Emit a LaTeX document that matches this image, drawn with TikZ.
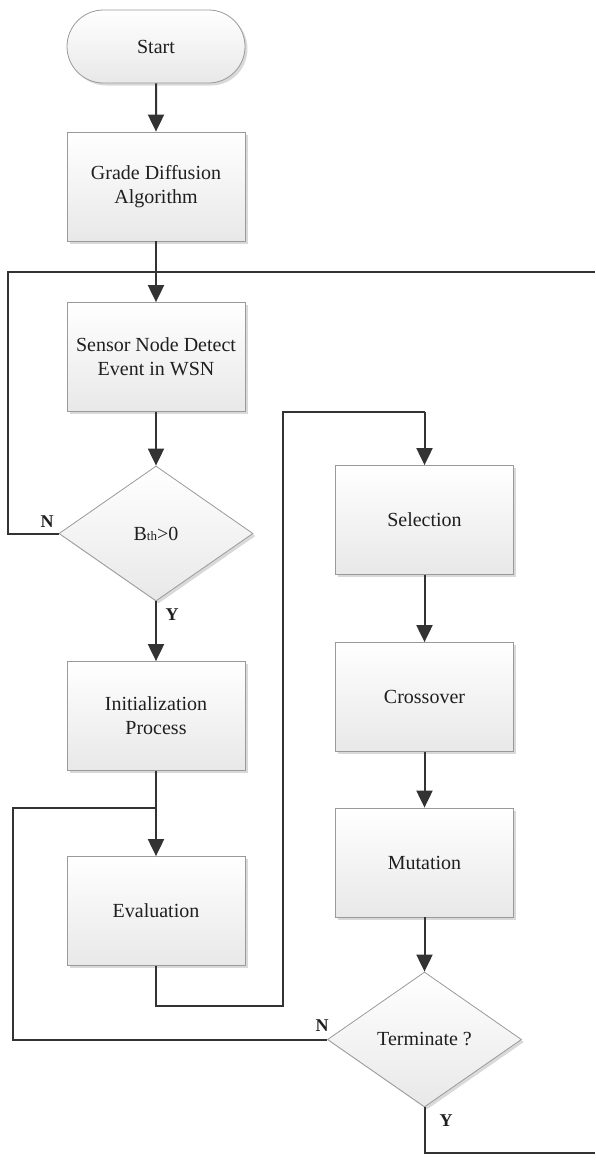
\documentclass[tikz,border=0pt]{standalone}
\usepackage{fontspec}
\setmainfont{Liberation Serif}
\usetikzlibrary{arrows.meta,shapes.geometric,shapes.misc,shadows}
\definecolor{linec}{HTML}{333333}
\definecolor{boxb}{HTML}{9A9A9A}
\begin{document}
\begin{tikzpicture}[x=1pt,y=-1pt,
 font=\fontsize{20}{24}\selectfont,
 base/.style={draw=boxb, line width=0.8pt, top color=white, bottom color=black!9,
   drop shadow={shadow xshift=2.5pt,shadow yshift=-2.5pt,opacity=0.25,fill=black!60},
   text=black!88, align=center, inner sep=0pt},
 proc/.style={base, rectangle, minimum width=178pt, minimum height=109pt},
 terminal/.style={base, rounded rectangle, minimum width=178pt, minimum height=73pt},
 dec/.style={base, diamond, minimum width=194pt, minimum height=135pt},
 flow/.style={draw=linec, line width=2pt},
 arr/.style={flow, -{Triangle[length=17pt,width=16pt]}},
 lab/.style={font=\fontsize{18}{18}\selectfont\bfseries, text=black!88, inner sep=0pt}
]
\useasboundingbox (0,0) rectangle (595,1160);

% left column
\node[terminal] (start)  at (156,46.5)  {Start};
\node[proc]     (grade)  at (156,186.5) {Grade Diffusion\\Algorithm};
\node[proc]     (sensor) at (156,357)   {Sensor Node Detect\\Event in WSN};
\node[dec]      (bth)    at (156,533.5) {B{\fontsize{13}{13}\selectfont th}>0};
\node[proc]     (init)   at (156,716)   {Initialization\\Process};
\node[proc]     (eval)   at (156,911)   {Evaluation};

% right column
\node[proc] (sel)   at (424.5,520)   {Selection};
\node[proc] (cross) at (424.5,697)   {Crossover};
\node[proc] (mut)   at (424.5,862.5) {Mutation};
\node[dec]  (term)  at (424.5,1039.5) {Terminate ?};

% helper coordinates
\coordinate (lt) at (8,272);
\coordinate (rt) at (595,272);
\coordinate (jl) at (13,808);
\coordinate (jr) at (156,808);
\coordinate (e1) at (156,1005.5);
\coordinate (e2) at (283,1005.5);
\coordinate (e3) at (283,412);
\coordinate (e4) at (424.5,412);
\coordinate (t1) at (424.5,1153);
\coordinate (t2) at (595,1153);

% connectors
\draw[arr] (start) -- (grade);
\draw[arr] (grade) -- (sensor);
\draw[arr] (sensor) -- (bth);
\draw[arr] (bth) -- (init);
\draw[arr] (init) -- (eval);
\draw[flow] (bth.west) -| (lt) -- (rt);
\draw[flow] (term.west) -| (jl) -- (jr);
\draw[flow] (eval.south) -- (e1) -- (e2) -- (e3) -- (e4);
\draw[arr] (e4) -- (sel.north);
\draw[arr] (sel) -- (cross);
\draw[arr] (cross) -- (mut);
\draw[arr] (mut) -- (term);
\draw[flow] (term.south) -- (t1) -- (t2);

% branch labels
\node[lab] (n1) at (47,522)   {N};
\node[lab] (y1) at (172,615)  {Y};
\node[lab] (n2) at (322,1026) {N};
\node[lab] (y2) at (446,1121) {Y};
\end{tikzpicture}
\end{document}
